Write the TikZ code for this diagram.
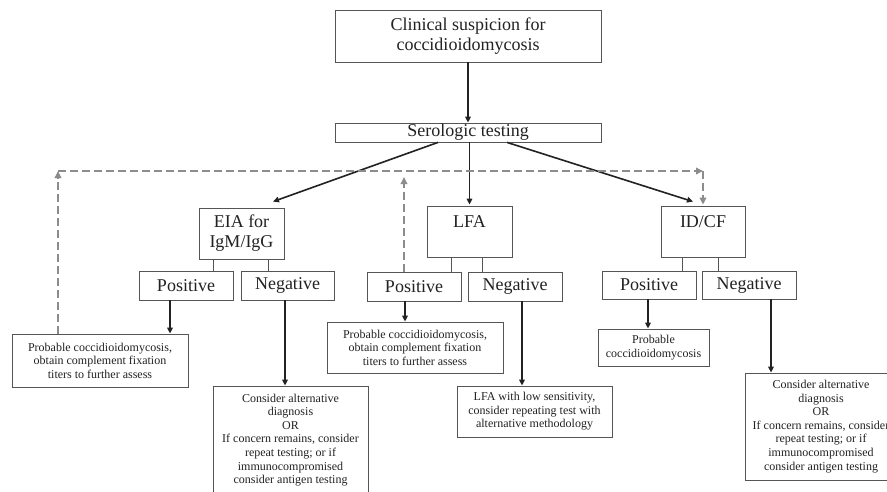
\documentclass[tikz,border=0pt]{standalone}
\usepackage{fontspec}
\setmainfont{Liberation Serif}
\usetikzlibrary{arrows.meta}
\definecolor{boxc}{HTML}{555555}
\definecolor{txt}{HTML}{222222}
\definecolor{arrc}{HTML}{222222}
\definecolor{dashc}{HTML}{8C8C8C}
\begin{document}
\begin{tikzpicture}[x=1pt,y=-1pt,
 box/.style={draw=boxc, line width=0.8pt, inner sep=0pt, align=center, text=txt, font=\fontsize{18}{20}\selectfont},
 rbox/.style={box, font=\fontsize{12}{13.6}\selectfont},
 arr/.style={draw=arrc, line width=1.6pt, -{Triangle[length=6pt,width=5.5pt]}},
 dasharr/.style={draw=dashc, line width=2.2pt, dash pattern=on 8pt off 4pt, -{Triangle[length=7pt,width=6.5pt]}},
 thinline/.style={draw=boxc, line width=0.8pt}]
\useasboundingbox[fill=white] (0,0) rectangle (887,491);

% main boxes
\node[box, minimum width=266pt, minimum height=52pt] (top) at (468,36) {Clinical suspicion for\\coccidioidomycosis};
\node[box, minimum width=266pt, minimum height=19pt] (sero) at (468,132.5) {Serologic testing};
\node[box, minimum width=85pt, minimum height=51pt] (eia) at (241.5,233.5) {EIA for\\IgM/IgG};
\node[box, minimum width=85pt, minimum height=51pt] (lfa) at (469.5,231.5) {LFA\\~};
\node[box, minimum width=84pt, minimum height=51pt] (idcf) at (703,231.5) {ID/CF\\~};

% positive / negative
\node[box, minimum width=94pt, minimum height=29pt] (epos) at (186,285.5) {Positive};
\node[box, minimum width=93pt, minimum height=29pt] (eneg) at (287.5,285.5) {Negative};
\node[box, minimum width=94pt, minimum height=29pt] (lpos) at (414,286.5) {Positive};
\node[box, minimum width=94pt, minimum height=29pt] (lneg) at (515,286.5) {Negative};
\node[box, minimum width=94pt, minimum height=28pt] (ipos) at (649,285) {Positive};
\node[box, minimum width=94pt, minimum height=28pt] (ineg) at (749,285) {Negative};

% results
\node[rbox, minimum width=176pt, minimum height=53pt] (r1) at (100,360.5) {Probable coccidioidomycosis,\\obtain complement fixation\\titers to further assess};
\node[rbox, minimum width=155pt, minimum height=108pt] (r2) at (290.5,440) {Consider alternative\\diagnosis\\OR\\If concern remains, consider\\repeat testing; or if\\immunocompromised\\consider antigen testing};
\node[rbox, minimum width=176pt, minimum height=51pt] (r3) at (415,347.5) {Probable coccidioidomycosis,\\obtain complement fixation\\titers to further assess};
\node[rbox, minimum width=155pt, minimum height=51pt] (r4) at (534.5,411.5) {LFA with low sensitivity,\\consider repeating test with\\alternative methodology};
\node[rbox, minimum width=111pt, minimum height=37pt] (r5) at (653.5,347.5) {Probable\\coccidioidomycosis};
\node[rbox, minimum width=152pt, minimum height=107pt] (r6) at (821,426.5) {Consider alternative\\diagnosis\\OR\\If concern remains, consider\\repeat testing; or if\\immunocompromised\\consider antigen testing};

% main arrows
\draw[arr] (top.south) -- (sero.north);
\draw[arr] ([xshift=-30pt]sero.south) -- ([xshift=31.5pt,yshift=6pt]eia.north);
\draw[arr] (lfa.north |- sero.south) -- ([yshift=1pt]lfa.north);
\draw[arr] ([xshift=39pt]sero.south) -- ([xshift=-10pt,yshift=4pt]idcf.north);

% thin connectors
\draw[thinline] ([xshift=-28.5pt]eia.south) -- ([xshift=-28.5pt]eia.south |- epos.north);
\draw[thinline] ([xshift=26.5pt]eia.south) -- ([xshift=26.5pt]eia.south |- eneg.north);
\draw[thinline] ([xshift=-18.5pt]lfa.south) -- ([xshift=-18.5pt]lfa.south |- lpos.north);
\draw[thinline] ([xshift=12.5pt]lfa.south) -- ([xshift=12.5pt]lfa.south |- lneg.north);
\draw[thinline] ([xshift=-21pt]idcf.south) -- ([xshift=-21pt]idcf.south |- ipos.north);
\draw[thinline] ([xshift=15pt]idcf.south) -- ([xshift=15pt]idcf.south |- ineg.north);

% result arrows
\draw[arr] ([xshift=-16pt]epos.south) -- ([xshift=-16pt]epos.south |- r1.north);
\draw[arr] ([xshift=-2.5pt]eneg.south) -- ([xshift=-2.5pt]eneg.south |- r2.north);
\draw[arr] ([xshift=-9pt]lpos.south) -- ([xshift=-9pt]lpos.south |- r3.north);
\draw[arr] ([xshift=7pt]lneg.south) -- ([xshift=7pt]lneg.south |- r4.north);
\draw[arr] ([xshift=-1pt]ipos.south) -- ([xshift=-1pt]ipos.south |- r5.north);
\draw[arr] ([xshift=22pt]ineg.south) -- ([xshift=22pt]ineg.south |- r6.north);

% dashed feedback arrows
\coordinate (c1) at (58,171);
\coordinate (c2) at (idcf.north |- c1);
\draw[dasharr] ([xshift=-42pt]r1.north) -- (c1);
\draw[dasharr] (c1) -- (c2);
\draw[dasharr] (c2) -- ([yshift=1pt]idcf.north);
\draw[dasharr] ([xshift=-10pt]lpos.north) -- ([xshift=-10pt]lpos.north |- 0,177);
\end{tikzpicture}
\end{document}
